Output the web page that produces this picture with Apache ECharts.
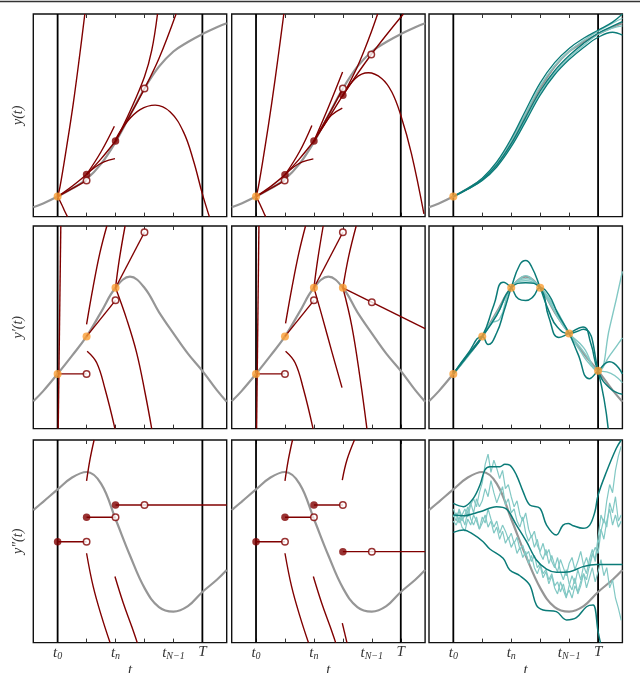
<!DOCTYPE html>
<html>
<head>
<meta charset="utf-8">
<script src="https://cdn.jsdelivr.net/npm/echarts@6/dist/echarts.min.js"></script>
<style>
html, body { margin: 0; padding: 0; background: #fff; }
#chart { width: 640px; height: 673px; }
</style>
</head>
<body>
<div id="chart"></div>
<script>
// x in step units (t0 = 0, tn = 2, tN-1 = 4, T = 5), y in percent of panel height
const tTrue = [-0.84, -0.5, 0, 0.5, 1, 1.5, 2, 2.5, 3, 3.5, 4, 4.5, 5, 5.5, 5.84]
const yTrue = [4.6, 6.5, 9.9, 13.8, 18.5, 26, 36.8, 50, 63.2, 74, 81.5, 86.2, 90.1, 93.5, 95.4]
const dyTrue = [13.5, 18.5, 27, 36, 45.5, 57.5, 69.5, 75, 69.5, 57.5, 47, 37, 28.5, 19, 13.3]
const ddyTrue = [65.4, 69.5, 75.6, 81.5, 84.2, 78.5, 61, 43, 27, 17.5, 15.3, 18, 25, 31, 35.8]

const tickValues = [0, 1, 2, 3, 4, 5]
const labelValues = [0, 2, 4, 5]
const yNames = ['y(t)', 'y\u2032(t)', 'y\u2033(t)']

// row 1, column 1
const r1c1Down = [[0, 9.9], [0.14, 6], [0.25, 2.5], [0.34, 0]]
const r1c1Steep = [[0, 9.9], [0.08, 14.5], [0.31, 34.3], [0.54, 55.8], [0.77, 80.5], [0.94, 100]]
const r1c1Euler = [[0, 9.9], [1, 17.8]]
const r1c1ToT1 = [[0, 9.9], [0.5, 15], [1, 20.8]]
const r1c1T1Up = [[1, 20.8], [1.5, 32], [1.96, 44.6]]
const r1c1T1Mid = [[1, 20.8], [1.5, 28.5], [2, 37.3]]
const r1c1T1Low = [[1, 20.8], [1.3, 24.5], [1.6, 27], [1.98, 28.6]]
const r1c1T2Steep = [[2, 37.3], [2.5, 52], [3, 69], [3.25, 82], [3.45, 100]]
const r1c1T2Up = [[2, 37.3], [2.5, 50], [3, 63.2], [3.5, 78], [4.09, 100]]
const r1c1T2Arc = [[1.98, 37.6], [2.39, 46.7], [2.85, 52.8], [3.37, 55], [3.89, 51.6], [4.35, 41.7], [4.69, 27.7], [5.0, 11.2], [5.24, 0]]
const r1c1Filled = [[1, 20.8], [2, 37.3]]
const r1c1Open = [[1, 17.8], [3, 63.2]]

// row 1, column 2
const r1c2Down = [[0, 9.9], [0.14, 6], [0.25, 2.5], [0.33, 0]]
const r1c2Steep = [[0, 9.9], [0.08, 14.5], [0.31, 34.3], [0.54, 55.8], [0.78, 80.5], [0.96, 100]]
const r1c2Euler = [[0, 9.9], [0.99, 17.8]]
const r1c2ToT1 = [[0, 9.9], [0.5, 14.8], [1, 20.6]]
const r1c2T1Up = [[1, 20.6], [1.5, 32], [1.93, 45]]
const r1c2T1Mid = [[1, 20.6], [1.5, 28.5], [2, 37.3]]
const r1c2T1Low = [[1, 20.6], [1.3, 24.5], [1.6, 27], [1.98, 28.5]]
const r1c2T2Up = [[2, 37.3], [2.5, 54], [2.99, 71.4]]
const r1c2T2Mid = [[2, 37.3], [2.5, 48.5], [3, 59.9]]
const r1c2T2Low = [[2, 37.3], [2.3, 44], [2.6, 50], [2.98, 53.6]]
const r1c2T2Open = [[2, 37.3], [2.5, 50], [3, 63.2]]
const r1c2T3Steep = [[3, 59.9], [3.5, 74], [3.9, 88], [4.2, 100]]
const r1c2T3Up = [[3, 59.9], [3.98, 80], [5.09, 100]]
const r1c2T3Arc = [[2.98, 59.1], [3.43, 68.2], [3.88, 71], [4.34, 68.2], [4.69, 61.5], [5.0, 50], [5.37, 31], [5.8, 1.3]]
const r1c2Filled = [[1, 20.6], [2, 37.3], [3, 59.9]]
const r1c2Open = [[0.99, 17.8], [3, 63.2], [3.98, 80]]

// row 1, column 3
const r1c3T = [0, 0.5, 1, 1.5, 2, 2.5, 3, 3.5, 4, 4.5, 5, 5.5, 5.84]
const r1c3A = [9.9, 14, 19, 27, 38.5, 52.5, 66, 76, 83, 88, 92, 96, 100]
const r1c3B = [9.9, 13.9, 18.8, 26.5, 37.5, 51, 64.5, 74.5, 81.5, 87, 91.5, 95.5, 97.9]
const r1c3C = [9.9, 13.7, 18.3, 25.5, 36, 49, 62, 72, 79.5, 85.5, 90.5, 94, 96.2]
const r1c3D = [9.9, 13.6, 18, 25, 35.3, 48, 61, 71, 78.5, 84.5, 90, 93, 94.1]
const r1c3E = [9.9, 13.5, 17.8, 24.5, 34.5, 47, 60, 70, 77.5, 83.5, 88.5, 91, 89.6]

// row 2, column 1
const r2c1Vert = [[0.02, 0], [0.11, 100]]
const r2c1Up1 = [[1.0, 51.5], [1.23, 70.2], [1.46, 86.7], [1.7, 100]]
const r2c1Dn1 = [[1.02, 38.2], [1.35, 32.5], [1.64, 19.4], [1.98, 0]]
const r2c1Up2 = [[2, 69.5], [2.13, 83.4], [2.33, 100]]
const r2c1Dn2 = [[2, 69.5], [2.39, 53.8], [2.73, 37.4], [3.02, 17.7], [3.25, 0]]
const r2c1Steps = [[[0, 27], [1, 27]], [[1, 45.5], [2, 63.3]], [[2, 69.5], [3, 96.9]]]
const r2c1Orange = [[0, 27], [1, 45.5], [2, 69.5]]
const r2c1Open = [[1, 27], [2, 63.3], [3, 96.9]]

// row 2, column 2
const r2c2Vert = [[0.02, 0], [0.1, 100]]
const r2c2Up1 = [[1.02, 51.9], [1.25, 70.3], [1.48, 86.7], [1.71, 100]]
const r2c2Dn1 = [[1.02, 38.2], [1.35, 32.5], [1.64, 19.4], [1.97, 0]]
const r2c2Up2 = [[2, 69.5], [2.13, 83.4], [2.32, 100]]
const r2c2Dn2 = [[2, 69.5], [2.28, 55.5], [2.63, 37.4], [2.97, 20.2]]
const r2c2Up3 = [[3, 69.5], [3.2, 85], [3.46, 100]]
const r2c2Dn3 = [[3, 69.5], [3.31, 50.5], [3.6, 24.3], [3.83, 0]]
const r2c2Steps = [[[0, 27], [1, 27]], [[1, 45.5], [2, 63.3]], [[2, 69.5], [3, 96.9]], [[3, 69.5], [5.84, 49.3]]]
const r2c2Orange = [[0, 27], [1, 45.5], [2, 69.5], [3, 69.5]]
const r2c2Open = [[1, 27], [2, 63.3], [3, 96.9], [4, 62.4]]

// row 2, column 3
const r2c3Orange = [[0, 27], [1, 45.5], [2, 69.5], [3, 69.5], [4, 47], [5, 28.5]]
const r2c3Dark1 = [[0, 27], [0.5, 37], [1, 45.5], [1.2, 41.5], [1.5, 47.3], [1.75, 58], [2, 69.5], [2.3, 81], [2.5, 83], [2.7, 80], [3, 69.5], [3.3, 58], [3.6, 50], [4, 47], [4.5, 49], [5, 28.5], [5.35, 0]]
const r2c3Dark2 = [[0, 27], [0.5, 36], [1, 45.5], [1.4, 61], [1.72, 72.2], [2, 69.5], [2.25, 64], [2.5, 63.2], [2.75, 65], [3, 69.5], [3.3, 66], [3.6, 57], [4, 47], [4.3, 37], [4.7, 24.6], [5, 28.5], [5.4, 33], [5.84, 27]]
const r2c3Dark3 = [[0, 27], [0.5, 36.5], [1, 45.5], [1.5, 56], [2, 69.5], [2.5, 72], [3, 69.5], [3.3, 55], [3.65, 45], [4, 47], [4.48, 50.2], [4.75, 42], [5, 28.5], [5.4, 20], [5.84, 16.9]]
const r2c3Light1 = [[0, 27], [0.5, 35.5], [1, 45.5], [1.5, 57], [2, 69.5], [2.3, 74], [2.5, 75.5], [2.7, 74], [3, 69.5], [3.5, 58], [4, 47], [4.5, 38], [5, 28.5], [5.4, 50], [5.84, 77.6]]
const r2c3Light2 = [[0, 27], [0.5, 36], [1, 45.5], [1.3, 52], [1.6, 54], [2, 69.5], [2.5, 73], [3, 69.5], [3.3, 64], [3.6, 55], [4, 47], [4.5, 40], [5, 28.5], [5.4, 36], [5.84, 44.8]]
const r2c3Light3 = [[0, 27], [1, 45.5], [1.5, 56], [2, 69.5], [2.5, 74], [3, 69.5], [3.5, 60], [4, 47], [4.4, 38], [4.7, 32], [5, 28.5], [5.3, 28], [5.84, 22.7]]

// row 3, columns 1 and 2
const r3Up1 = [[1.0, 79.8], [1.12, 90.5], [1.26, 100]]
const r3Dn1 = [[1.0, 44.1], [1.23, 27.6], [1.52, 12.8], [1.81, 0]]
const r3Dn2 = [[1.98, 32.6], [2.27, 19.4], [2.56, 7.9], [2.75, 0]]
const r3c2Up3 = [[2.98, 80.2], [3.14, 90.1], [3.4, 100]]
const r3c2Dn3 = [[2.98, 9.6], [3.14, 0]]
const r3c1Steps = [[[0, 49.8], [1, 49.8]], [[1, 61.9], [2, 61.9]], [[2, 67.9], [5.84, 67.9]]]
const r3c1Filled = [[0, 49.8], [1, 61.9], [2, 67.9]]
const r3c1Open = [[1, 49.8], [2, 61.9], [3, 67.9]]
const r3c2Steps = [[[0, 49.8], [1, 49.8]], [[1, 61.9], [2, 61.9]], [[2, 67.9], [3, 67.9]], [[3, 44.9], [5.84, 44.9]]]
const r3c2Filled = [[0, 49.8], [1, 61.9], [2, 67.9], [3, 44.9]]
const r3c2Open = [[1, 49.8], [2, 61.9], [3, 67.9], [4, 44.9]]

// row 3, column 3
const r3c3DarkTop = [[0, 68.7], [0.35, 67.1], [0.69, 71.2], [0.92, 77.8], [1.09, 85.2], [1.26, 86.8], [1.61, 86.8], [1.78, 88], [1.95, 87.6], [2.18, 82.7], [2.41, 74.5], [2.64, 67.9], [2.99, 66.3], [3.22, 58], [3.56, 53.1], [3.79, 58], [3.97, 58.8], [4.14, 57.7], [4.48, 56.4], [4.71, 58], [4.89, 64.6], [5.0, 72.8], [5.29, 84.3], [5.63, 95.9], [5.8, 100]]
const r3c3DarkMid = [[0, 63], [0.35, 62.6], [0.92, 64.6], [1.49, 67.1], [1.84, 65.9], [2.18, 58], [2.53, 49.8], [2.87, 40.8], [3.22, 36.3], [3.56, 34.7], [4.02, 35], [4.48, 37.5], [4.94, 38.6], [5.84, 38.6]]
const r3c3DarkBot = [[0, 54.4], [0.35, 55.6], [0.69, 53.4], [1.03, 49.8], [1.26, 46.2], [1.72, 41.6], [1.95, 35.8], [2.3, 33], [2.64, 28.4], [2.87, 18.5], [3.1, 16.1], [3.56, 15.3], [3.91, 11.2], [4.25, 12.3], [4.6, 17.7], [4.83, 18.5], [5.0, 5.4], [5.08, 0]]
const tNoise = [0, 0.1, 0.2, 0.3, 0.4, 0.5, 0.6, 0.7, 0.8, 0.9, 1, 1.1, 1.2, 1.3, 1.4, 1.5, 1.6, 1.7, 1.8, 1.9, 2, 2.1, 2.2, 2.3, 2.4, 2.5, 2.6, 2.7, 2.8, 2.9, 3, 3.1, 3.2, 3.3, 3.4, 3.5, 3.6, 3.7, 3.8, 3.9, 4, 4.1, 4.2, 4.3, 4.4, 4.5, 4.6, 4.7, 4.8, 4.9, 5, 5.1, 5.2, 5.3, 5.4, 5.5, 5.6, 5.7, 5.8]
const noise1 = [62, 64, 59, 63, 66, 62, 68, 71, 67, 74, 79, 88, 93, 84, 90, 86, 81, 85, 76, 78, 72, 67, 70, 63, 60, 64, 56, 52, 55, 48, 45, 49, 43, 46, 40, 37, 42, 35, 31, 36, 29, 26, 32, 24, 28, 34, 31, 38, 44, 41, 52, 63, 59, 70, 78, 74, 85, 92, 97]
const noise2 = [63, 60, 66, 62, 58, 65, 69, 64, 71, 67, 70, 76, 72, 80, 74, 69, 73, 77, 68, 71, 64, 66, 60, 57, 62, 54, 50, 53, 47, 51, 44, 41, 46, 39, 43, 38, 35, 41, 37, 33, 39, 42, 36, 40, 45, 38, 34, 41, 46, 40, 49, 56, 51, 60, 66, 58, 63, 57, 60]
const noise3 = [60, 58, 62, 57, 55, 61, 58, 63, 60, 56, 62, 59, 66, 61, 57, 60, 54, 58, 55, 51, 54, 49, 52, 46, 48, 43, 45, 40, 43, 37, 39, 34, 36, 31, 34, 28, 30, 25, 29, 23, 26, 22, 28, 25, 30, 34, 27, 32, 37, 30, 35, 41, 33, 37, 27, 31, 22, 17, 11]
const noise4 = [66, 62, 65, 60, 63, 67, 61, 58, 62, 56, 59, 63, 57, 60, 54, 57, 51, 55, 49, 52, 47, 50, 44, 47, 42, 45, 39, 43, 37, 34, 38, 32, 35, 29, 33, 27, 24, 30, 26, 22, 28, 33, 29, 36, 31, 38, 42, 37, 43, 47, 44, 55, 61, 57, 69, 64, 72, 60, 63]

const RED = '#800000'
const GRAY = '#969696'
const ORANGE = '#fa9d33'
const TEAL = '#0b7b78'
const TEAL_LIGHT = '#82c8c4'

const colLeft = [33.3, 231.7, 429]
const rowTop = [14, 226, 440]
const serif = 'Liberation Serif'

const chart = echarts.init(document.getElementById('chart'))

const grids = []
const xAxes = []
const yAxes = []
const series = []

function zip(ts, vs) {
  return ts.map((t, i) => [t, vs[i]])
}

function line(g, data, color, width, smooth, z) {
  series.push({
    type: 'line', xAxisIndex: g, yAxisIndex: g, data: data,
    smooth: smooth, symbol: 'none', silent: true, z: z,
    lineStyle: { color: color, width: width }
  })
}

function dots(g, data, kind) {
  const style = {
    orange: { color: ORANGE, size: 8 },
    filled: { color: RED, size: 7.5 },
    open: { color: '#fff', size: 6.5, border: RED }
  }[kind]
  series.push({
    type: 'scatter', xAxisIndex: g, yAxisIndex: g, data: data,
    symbol: 'circle', symbolSize: style.size, silent: true, z: 10,
    itemStyle: { color: style.color, borderColor: style.border || style.color, borderWidth: style.border ? 1.5 : 0 }
  })
}

const labelText = {
  0: '{i|t}{s|0}',
  2: '{i|t}{s|n}',
  4: '{i|t}{s|N\u22121}',
  5: '{i|T}'
}

for (let r = 0; r < 3; r++) {
  for (let c = 0; c < 3; c++) {
    const g = r * 3 + c
    grids.push({
      left: colLeft[c], top: rowTop[r], width: 193.4, height: 202.6,
      outerBoundsMode: 'none',
      show: true, borderColor: '#111', borderWidth: 1.4, backgroundColor: 'transparent'
    })
    xAxes.push({
      gridIndex: g, type: 'value', min: -0.84, max: 5.84, position: 'bottom',
      axisLine: { show: false }, splitLine: { show: false },
      axisTick: { show: true, inside: true, length: 4, customValues: tickValues, lineStyle: { color: '#333' } },
      axisLabel: r === 2 ? {
        show: true, customValues: labelValues, margin: 2,
        formatter: v => labelText[v] || '',
        rich: {
          i: { fontFamily: serif, fontStyle: 'italic', fontSize: 15, color: '#333' },
          s: { fontFamily: serif, fontStyle: 'italic', fontSize: 10, color: '#333', padding: [7, 0, 0, 0] }
        }
      } : { show: false },
      name: r === 2 ? 't' : '', nameLocation: 'middle', nameGap: 18,
      nameTextStyle: { fontFamily: serif, fontStyle: 'italic', fontSize: 15, color: '#333' }
    })
    yAxes.push({
      gridIndex: g, type: 'value', min: 0, max: 100,
      axisLine: { show: false }, axisTick: { show: false }, axisLabel: { show: false }, splitLine: { show: false },
      name: c === 0 ? yNames[r] : '', nameLocation: 'middle', nameGap: 8, nameRotate: 90,
      nameTextStyle: { fontFamily: serif, fontStyle: 'italic', fontSize: 14, color: '#333' }
    })
  }
}
// top ticks
for (let g = 0; g < 9; g++) {
  xAxes.push({
    gridIndex: g, type: 'value', min: -0.84, max: 5.84, position: 'top',
    axisLine: { show: false }, splitLine: { show: false }, axisLabel: { show: false },
    axisTick: { show: true, inside: true, length: 4, customValues: tickValues, lineStyle: { color: '#333' } }
  })
}

// true solution and the t0 / T lines in every panel
const trueCurves = [yTrue, dyTrue, ddyTrue]
for (let g = 0; g < 9; g++) {
  const r = Math.floor(g / 3)
  line(g, zip(tTrue, trueCurves[r]), GRAY, 2.2, 0.4, 2)
  line(g, [[0, 0], [0, 100]], '#000', 1.8, false, 1)
  line(g, [[5, 0], [5, 100]], '#000', 1.8, false, 1)
}

// row 1
;[r1c1Down, r1c1Steep, r1c1ToT1, r1c1T1Up, r1c1T1Mid, r1c1T1Low, r1c1T2Steep, r1c1T2Up, r1c1T2Arc]
  .forEach(d => line(0, d, RED, 1.4, 0.4, 4))
line(0, r1c1Euler, RED, 1.4, false, 4)
dots(0, r1c1Filled, 'filled')
dots(0, r1c1Open, 'open')
dots(0, [[0, 9.9]], 'orange')

;[r1c2Down, r1c2Steep, r1c2ToT1, r1c2T1Up, r1c2T1Mid, r1c2T1Low, r1c2T2Up, r1c2T2Mid, r1c2T2Low, r1c2T2Open, r1c2T3Steep, r1c2T3Up, r1c2T3Arc]
  .forEach(d => line(1, d, RED, 1.4, 0.4, 4))
line(1, r1c2Euler, RED, 1.4, false, 4)
dots(1, r1c2Filled, 'filled')
dots(1, r1c2Open, 'open')
dots(1, [[0, 9.9]], 'orange')

;[[r1c3B, TEAL_LIGHT], [r1c3D, TEAL_LIGHT], [r1c3A, TEAL], [r1c3C, TEAL], [r1c3E, TEAL]]
  .forEach(([d, col]) => line(2, zip(r1c3T, d), col, 1.3, 0.4, 4))
dots(2, [[0, 9.9]], 'orange')

// row 2
;[r2c1Vert, r2c1Up1, r2c1Dn1, r2c1Up2, r2c1Dn2].forEach(d => line(3, d, RED, 1.4, 0.4, 4))
r2c1Steps.forEach(d => line(3, d, RED, 1.4, false, 4))
dots(3, r2c1Open, 'open')
dots(3, r2c1Orange, 'orange')

;[r2c2Vert, r2c2Up1, r2c2Dn1, r2c2Up2, r2c2Dn2, r2c2Up3, r2c2Dn3].forEach(d => line(4, d, RED, 1.4, 0.4, 4))
r2c2Steps.forEach(d => line(4, d, RED, 1.4, false, 4))
dots(4, r2c2Open, 'open')
dots(4, r2c2Orange, 'orange')

;[r2c3Light1, r2c3Light2, r2c3Light3].forEach(d => line(5, d, TEAL_LIGHT, 1.4, 0.5, 4))
;[r2c3Dark1, r2c3Dark2, r2c3Dark3].forEach(d => line(5, d, TEAL, 1.5, 0.5, 5))
dots(5, r2c3Orange, 'orange')

// row 3
;[r3Up1, r3Dn1, r3Dn2].forEach(d => line(6, d, RED, 1.4, 0.4, 4))
r3c1Steps.forEach(d => line(6, d, RED, 1.4, false, 4))
dots(6, r3c1Filled, 'filled')
dots(6, r3c1Open, 'open')

;[r3Up1, r3Dn1, r3Dn2, r3c2Up3, r3c2Dn3].forEach(d => line(7, d, RED, 1.4, 0.4, 4))
r3c2Steps.forEach(d => line(7, d, RED, 1.4, false, 4))
dots(7, r3c2Filled, 'filled')
dots(7, r3c2Open, 'open')

;[noise1, noise2, noise3, noise4].forEach(d => line(8, zip(tNoise, d), TEAL_LIGHT, 1.2, false, 4))
;[r3c3DarkTop, r3c3DarkMid, r3c3DarkBot].forEach(d => line(8, d, TEAL, 1.5, 0.35, 5))

chart.setOption({
  animation: false,
  backgroundColor: '#fff',
  grid: grids,
  xAxis: xAxes,
  yAxis: yAxes,
  series: series,
  graphic: [{
    type: 'line', shape: { x1: 0, y1: 1.5, x2: 640, y2: 1.5 },
    style: { stroke: '#333', lineWidth: 1.5 }, silent: true
  }]
})
</script>
</body>
</html>
